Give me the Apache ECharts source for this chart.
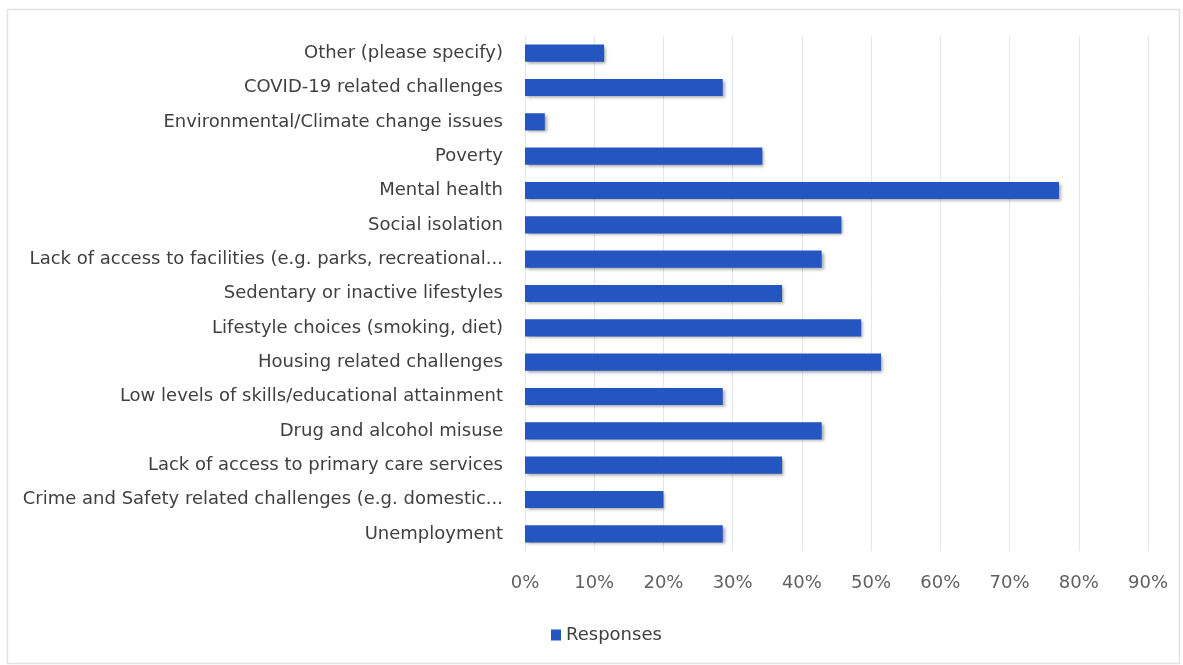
<!DOCTYPE html>
<html>
<head>
<meta charset="utf-8">
<script src="https://cdn.jsdelivr.net/npm/echarts@6/dist/echarts.min.js"></script>
<style>
  html, body { margin: 0; padding: 0; background: #ffffff; }
  #chart { width: 1183px; height: 665px; }
</style>
</head>
<body>
<div id="chart"></div>
<script>
// Challenges, listed bottom to top as they appear on the category axis
const categories = [
  'Unemployment',
  'Crime and Safety related challenges (e.g. domestic...',
  'Lack of access to primary care services',
  'Drug and alcohol misuse',
  'Low levels of skills/educational attainment',
  'Housing related challenges',
  'Lifestyle choices (smoking, diet)',
  'Sedentary or inactive lifestyles',
  'Lack of access to facilities (e.g. parks, recreational...',
  'Social isolation',
  'Mental health',
  'Poverty',
  'Environmental/Climate change issues',
  'COVID-19 related challenges',
  'Other (please specify)'
];

// Share of responses, in percent
const responses = [
  28.57, 20.00, 37.14, 42.86, 28.57, 51.43, 48.57, 37.14,
  42.86, 45.71, 77.14, 34.29, 2.86, 28.57, 11.43
];

const seriesName = 'Responses';
const axisMax = 90;
const axisStep = 10;

const FONT = '"DejaVu Sans", sans-serif';

const chart = echarts.init(document.getElementById('chart'));

chart.setOption({
  backgroundColor: '#ffffff',
  animation: false,
  textStyle: { fontFamily: FONT },
  graphic: [{
    type: 'rect',
    left: 5, top: 7,
    shape: { width: 1172, height: 654 },
    style: { fill: 'none', stroke: '#e2e2e2', lineWidth: 1.5 },
    silent: true
  }],
  grid: {
    left: 525, right: 35, top: 36, bottom: 114,
    containLabel: false,
    outerBoundsMode: 'none'
  },
  legend: {
    top: 621,
    left: 546,
    itemWidth: 10,
    itemHeight: 11,
    itemGap: 6,
    icon: 'rect',
    textStyle: { fontSize: 18, color: '#404040', fontFamily: FONT },
    data: [seriesName]
  },
  xAxis: {
    type: 'value',
    min: 0,
    max: axisMax,
    interval: axisStep,
    axisLine: { show: false },
    axisTick: { show: false },
    splitLine: { lineStyle: { color: '#e6e6e6', width: 1 } },
    axisLabel: {
      formatter: '{value}%',
      fontSize: 18,
      color: '#606060',
      margin: 23,
      fontFamily: FONT
    }
  },
  yAxis: {
    type: 'category',
    data: categories,
    axisLine: { show: true, lineStyle: { color: '#e6e6e6' } },
    axisTick: { show: false },
    axisLabel: {
      fontSize: 18,
      color: '#404040',
      margin: 22,
      fontFamily: FONT
    }
  },
  series: [{
    name: seriesName,
    type: 'bar',
    data: responses,
    barWidth: '50%',
    itemStyle: {
      color: '#2455c0',
      shadowColor: 'rgba(0,0,0,0.35)',
      shadowBlur: 3,
      shadowOffsetX: 2,
      shadowOffsetY: 2
    }
  }]
});
</script>
</body>
</html>
